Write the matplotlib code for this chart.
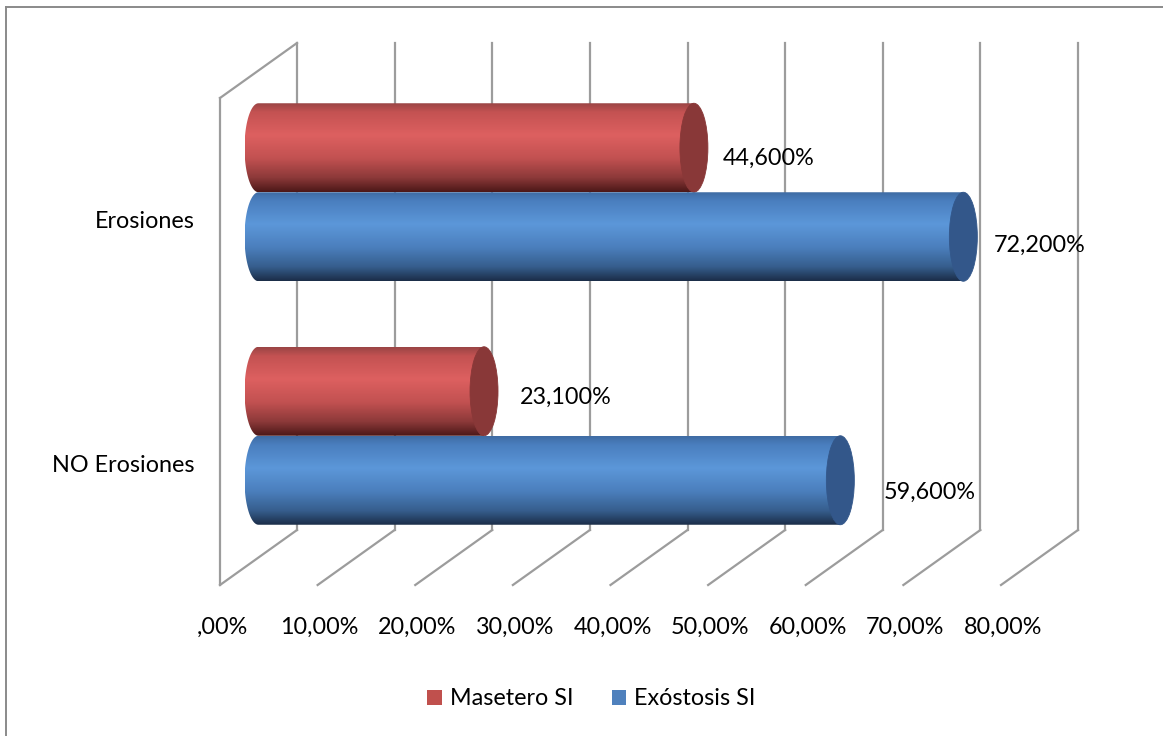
import numpy as np
import matplotlib
matplotlib.use("Agg")
import matplotlib.pyplot as plt
from matplotlib.patches import Ellipse, Patch, PathPatch
from matplotlib.path import Path
from matplotlib.lines import Line2D
from matplotlib.colors import to_rgb

# ---- data -------------------------------------------------------------
categories = ["NO Erosiones", "Erosiones"]
series_names = ["Masetero SI", "Exóstosis SI"]
masetero = [23.1, 44.6]
exostosis = [59.6, 72.2]
tick_values = [0, 10, 20, 30, 40, 50, 60, 70, 80]
tick_labels = [",00%", "10,00%", "20,00%", "30,00%", "40,00%",
               "50,00%", "60,00%", "70,00%", "80,00%"]

# ---- style ------------------------------------------------------------
plt.rcParams["font.family"] = ["Lato", "DejaVu Sans"]
FS = 16.8
GRID = "#9c9c9c"
legend_colors = ["#c0504d", "#4f81bd"]
body_stops = [
    [(0.0, "#9a4545"), (0.10, "#c45252"), (0.36, "#dd6060"),
     (0.62, "#c25151"), (0.84, "#8c3939"), (1.0, "#4c1818")],
    [(0.0, "#3f6ca4"), (0.10, "#4a7fbf"), (0.36, "#5c97d9"),
     (0.62, "#4b7fbd"), (0.84, "#365e8d"), (1.0, "#1b2d48")],
]
cap_colors = ["#893838", "#33578a"]
# data-label nudges (pixels right, pixels down) per (series, category)
label_nudge = {(0, 1): (29, 11), (1, 1): (30, 9),
               (0, 0): (36, 6), (1, 0): (43, 12)}

fig = plt.figure(figsize=(11.63, 7.36), dpi=100)
# axes spans the middle depth plane of the 3-D box
ax = fig.add_axes([258.5 / 1163, 178.5 / 736, 781 / 1163, 487 / 736])
ax.set_xlim(0, 80)
ax.set_ylim(-0.5, 1.5)
ax.axis("off")

px_x = 781 / 80.0
px_y = 487 / 2.0
DX = 38.5 / px_x          # half depth, x units
DY = 27.5 / px_y          # half depth, y units
BAR_H = 89 / px_y
CAP_A = 14 / px_x         # half width of the cylinder end ellipse

# ---- 3-D frame: back wall, floor, left wall ----------------------------
lw = 1.6
for v in tick_values:
    ax.add_line(Line2D([v + DX, v + DX], [-0.5 + DY, 1.5 + DY],
                       color=GRID, lw=lw, zorder=1, clip_on=False))
    ax.add_line(Line2D([v - DX, v + DX], [-0.5 - DY, -0.5 + DY],
                       color=GRID, lw=lw, zorder=1, clip_on=False))
ax.add_line(Line2D([-DX, -DX], [-0.5 - DY, 1.5 - DY],
                   color=GRID, lw=lw, zorder=1, clip_on=False))
ax.add_line(Line2D([-DX, DX], [1.5 - DY, 1.5 + DY],
                   color=GRID, lw=lw, zorder=1, clip_on=False))


def gradient_column(stops, n=200):
    t = np.linspace(0, 1, n)
    pos = [s[0] for s in stops]
    cols = np.array([to_rgb(s[1]) for s in stops])
    rgb = np.stack([np.interp(t, pos, cols[:, k]) for k in range(3)], axis=1)
    return rgb[:, None, :]


def cylinder(value, y0, y1, stops, cap_color, z):
    yc = (y0 + y1) / 2
    hh = (y1 - y0) / 2
    th = np.linspace(np.pi / 2, 3 * np.pi / 2, 60)
    left = np.column_stack([CAP_A * np.cos(th), yc + hh * np.sin(th)])
    verts = np.vstack([[value, y1], left, [value, y0], [value, y1]])
    codes = [Path.MOVETO] + [Path.LINETO] * (len(verts) - 2) + [Path.CLOSEPOLY]
    clip = PathPatch(Path(verts, codes), facecolor="none", edgecolor="none",
                     transform=ax.transData, clip_on=False)
    ax.add_patch(clip)
    im = ax.imshow(gradient_column(stops), extent=[-CAP_A, value, y0, y1],
                   origin="upper", aspect="auto", zorder=z,
                   interpolation="bilinear")
    im.set_clip_box(fig.bbox)
    im.set_clip_path(clip)
    ax.add_patch(Ellipse((value, yc), 2 * CAP_A, y1 - y0, facecolor=cap_color,
                         edgecolor=cap_color, lw=0.6, zorder=z + 0.1,
                         clip_on=False))


series = [masetero, exostosis]
for ci, cat in enumerate(categories):
    for si, vals in enumerate(series):
        v = vals[ci]
        if si == 0:
            y0, y1 = ci, ci + BAR_H
        else:
            y0, y1 = ci - BAR_H, ci
        cylinder(v, y0, y1, body_stops[si], cap_colors[si], 3 + si)
        nx, ny = label_nudge[(si, ci)]
        ax.annotate(f"{v:.3f}".replace(".", ",") + "%", xy=(v, (y0 + y1) / 2),
                    xytext=(nx, -ny), textcoords="offset pixels",
                    ha="left", va="center", fontsize=FS, color="black",
                    annotation_clip=False, zorder=10)
    # category label on the front plane
    ax.annotate(cat, xy=(-DX, ci - DY), xytext=(-25, -2),
                textcoords="offset pixels", ha="right", va="center",
                fontsize=FS, color="black", annotation_clip=False)

ax.set_xlim(0, 80)
ax.set_ylim(-0.5, 1.5)

# value axis tick labels along the front floor edge
for v, lab in zip(tick_values, tick_labels):
    ax.annotate(lab, xy=(v - DX, -0.5 - DY), xytext=(2, -42),
                textcoords="offset pixels", ha="center", va="center",
                fontsize=FS, color="black", annotation_clip=False)

# legend
handles = [Patch(facecolor=c, edgecolor="none") for c in legend_colors]
fig.legend(handles, series_names, loc="center", bbox_to_anchor=(0.5086, 0.0503),
           ncol=2, frameon=False, fontsize=FS, handlelength=0.62,
           handleheight=0.62, handletextpad=0.35, columnspacing=1.65)

# chart border
fig.add_artist(Line2D([5.5 / 1163, 1.0], [1 - 6.5 / 736, 1 - 6.5 / 736],
                      transform=fig.transFigure, color="#8a8a8a", lw=1.4))
fig.add_artist(Line2D([5.5 / 1163, 5.5 / 1163], [0.0, 1 - 6.5 / 736],
                      transform=fig.transFigure, color="#8a8a8a", lw=1.4))

fig.savefig("out.png", dpi=100, facecolor="white")
